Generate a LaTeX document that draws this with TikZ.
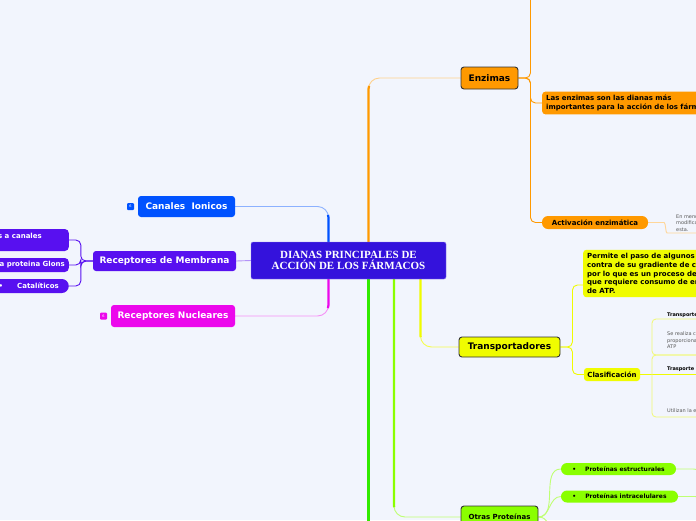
\documentclass[tikz,border=0pt]{standalone}
\usepackage{fontspec}
\setmainfont{DejaVu Sans}
\newfontfamily\titlefont{Liberation Serif}
\usepackage{xcolor}
\usepackage{tikz}
\usetikzlibrary{calc, backgrounds, positioning}

\definecolor{bgpage}{RGB}{242,245,253}
\definecolor{rootblue}{RGB}{52,18,220}
\definecolor{canalblue}{RGB}{0,82,255}
\definecolor{membviolet}{RGB}{88,16,240}
\definecolor{nucmag}{RGB}{236,8,236}
\definecolor{enzorange}{RGB}{255,153,0}
\definecolor{transyellow}{RGB}{240,252,0}
\definecolor{otrasgreen}{RGB}{138,255,0}
\definecolor{mainlime}{RGB}{50,235,0}
\definecolor{boxedge}{RGB}{50,50,50}

\tikzset{
  rootbox/.style={
    draw=rootblue!55!white, fill=rootblue, rounded corners=2pt, text=white,
    font=\titlefont\bfseries\fontsize{11}{10.5}\selectfont, align=center,
    minimum width=195pt, minimum height=37pt
  },
  topicbox/.style={
    rounded corners=3pt, text=white, inner xsep=6pt,
    font=\bfseries\fontsize{9}{10}\selectfont, minimum height=21pt
  },
  framedbox/.style={
    draw=boxedge, line width=0.9pt, rounded corners=3pt,
    font=\bfseries\fontsize{9}{10}\selectfont, minimum height=21pt
  },
  leafbox/.style={
    fill=membviolet, text=white, rounded corners=4pt, align=left,
    font=\bfseries\fontsize{7}{8.8}\selectfont, inner xsep=4pt, inner ysep=2pt
  },
  subbox/.style={
    rounded corners=3pt, align=left, inner xsep=4pt,
    font=\bfseries\fontsize{7}{8.8}\selectfont
  },
  pillbox/.style={
    rounded corners=6pt, inner ysep=0pt, minimum height=13pt,
    font=\bfseries\fontsize{7}{8}\selectfont
  },
  outlinebox/.style={
    draw=transyellow!55!bgpage, line width=0.8pt, rounded corners=4pt,
    minimum width=100pt
  },
  tinytext/.style={
    font=\fontsize{5}{6.3}\selectfont, text=black!65, align=left, inner sep=0pt
  },
  tinyhead/.style={font=\bfseries\fontsize{5}{6}\selectfont, inner sep=0pt},
  badge/.style={
    rounded corners=1pt, minimum size=7pt, inner sep=0pt, text=white,
    font=\fontsize{3.5}{4}\selectfont
  },
  branch/.style={line width=0.9pt, rounded corners=11pt},
  stem/.style={line width=2.2pt, rounded corners=11pt, dash pattern=on #1 off 2000pt},
  twig/.style={line width=0.9pt, rounded corners=5pt},
}

\begin{document}
\begin{tikzpicture}[x=1pt, y=-1pt]
  \useasboundingbox (0,0) rectangle (696,520);
  \begin{scope}[on background layer]
    \fill[bgpage] (0,0) rectangle (696,520);
  \end{scope}

  % ── Central topic ──────────────────────────────────────────────
  \node[rootbox] (root) at (348.5,260.5) {DIANAS PRINCIPALES DE\\ACCIÓN DE LOS FÁRMACOS};

  % ── Left branches ──────────────────────────────────────────────
  \node[topicbox, fill=canalblue, minimum width=97pt] (canales) at (186.5,206.5) {Canales\ \ Ionicos};
  \node[badge, fill=canalblue] (canalbadge) at (130.5,206.5) {6};
  \node[topicbox, fill=membviolet, minimum width=143pt, minimum height=20pt]
    (recmem) at (164.5,261) {Receptores de Membrana};
  \node[topicbox, fill=nucmag, minimum width=124pt, minimum height=22pt]
    (recnuc) at (173,316) {Receptores Nucleares};
  \node[badge, fill=nucmag] (nucbadge) at (103.5,316) {6};

  % receptor types (cut by the left edge)
  \node[leafbox, anchor=east, minimum height=22pt]
    (canalrec) at (69,240) {Receptores acoplados a canales\hspace*{23pt}\\iónicos};
  \node[leafbox, anchor=east, minimum height=14pt]
    (gprot) at (69,265) {Receptores acoplados a proteina Glons};
  \node[leafbox, anchor=east, minimum height=14pt, rounded corners=7pt, inner xsep=10pt]
    (catal) at (69,286) {•\hspace{14pt}Catalíticos};

  % ── Enzimas ────────────────────────────────────────────────────
  \node[framedbox, fill=enzorange, minimum width=57pt, minimum height=22pt] (enz) at (489.5,78) {Enzimas};
  \node[subbox, fill=enzorange, anchor=west, minimum height=22pt]
    (lasenz) at (542,103) {Las enzimas son las dianas más\\importantes para la acción de los fármacos};
  \node[pillbox, fill=enzorange, minimum width=106pt] (activ) at (595,222.5) {Activación enzimática};
  \node[tinytext, anchor=south west, inner ysep=1.5pt]
    (enmenor) at (676,233) {En menor medida\\modifican la actividad de\\esta.};

  % ── Transportadores ────────────────────────────────────────────
  \node[framedbox, fill=transyellow, minimum width=101pt, minimum height=20pt]
    (transp) at (509.5,347) {Transportadores};
  \node[subbox, fill=transyellow, anchor=west, minimum height=47pt]
    (permite) at (583,273.5) {Permite el paso de algunos solutos en\\contra de su gradiente de concentración,\\por lo que es un proceso de transporte activo\\que requiere consumo de energía en forma\\de ATP.};
  \node[pillbox, fill=transyellow, rounded corners=3pt, minimum width=56pt]
    (clasif) at (612,374.5) {Clasificación};
  \node[tinyhead, anchor=base west] (tprim) at (667,316) {Transporte activo primario};
  \node[outlinebox, minimum height=36pt] (primbox) at (702,337) {};
  \node[tinytext, anchor=west] (primtext) at (667,340) {Se realiza con energía\\proporcionada por el\\ATP};
  \node[tinyhead, anchor=base west] (tsec) at (667,370) {Trasporte activo secundario};
  \node[outlinebox, minimum height=62pt] (secbox) at (702,386) {};
  \node[tinytext, anchor=base west] (sectext) at (667,412) {Utilizan la energía del gradiente};

  % ── Otras Proteínas ────────────────────────────────────────────
  \node[framedbox, fill=otrasgreen, font=\bfseries\fontsize{7}{8}\selectfont,
        minimum width=77pt, minimum height=22pt] (otras) at (499.5,517) {Otras Proteínas};
  \node[pillbox, fill=otrasgreen, font=\bfseries\fontsize{6}{7}\selectfont,
        minimum width=115pt, minimum height=12pt] (estruct) at (618.5,469) {•\hspace{9pt}Proteínas estructurales};
  \node[pillbox, fill=otrasgreen, font=\bfseries\fontsize{6}{7}\selectfont,
        minimum width=117pt, minimum height=12pt] (intra) at (619.5,496.5) {•\hspace{9pt}Proteínas intracelulares};

  % branches leaving the picture
  \coordinate (enztop) at (545,-40);
  \coordinate (mainlow) at (368.5,560);
  \coordinate (otraslow) at (565,560);
  \coordinate (estructnext) at (730,500);
  \coordinate (intranext) at (730,522);

  % ── Connectors ─────────────────────────────────────────────────
  \begin{scope}[on background layer]
    \draw[branch, canalblue!45!white] ([xshift=-20pt]root.north) |- (canales.east);
    \draw[stem=27pt, canalblue] ([xshift=-20pt]root.north) |- (canales.east);
    \draw[branch, nucmag!45!white] ([xshift=-20pt]root.south) |- (recnuc.east);
    \draw[stem=29pt, nucmag] ([xshift=-20pt]root.south) |- (recnuc.east);
    \draw[twig, membviolet!45!white] (root.west) -- (recmem.east);

    \draw[branch, enzorange!45!white] ([xshift=20pt]root.north) |- (enz.west);
    \draw[stem=156pt, enzorange] ([xshift=20pt]root.north) |- (enz.west);
    \draw[branch, transyellow!70!white] ([xshift=72pt]root.south) |- (transp.west);
    \draw[stem=58pt, transyellow] ([xshift=72pt]root.south) |- (transp.west);
    \draw[branch, otrasgreen!55!white] ([xshift=45.5pt]root.south) |- (otras.west);
    \draw[stem=228pt, otrasgreen] ([xshift=45.5pt]root.south) |- (otras.west);
    \draw[line width=2.6pt, mainlime] ([xshift=20pt]root.south) -- (mainlow);

    \draw[twig, membviolet] (recmem.west) -- ++(-12,0) |- (canalrec.east);
    \draw[twig, membviolet] (recmem.west) -- ++(-12,0) |- (gprot.east);
    \draw[twig, membviolet] (recmem.west) -- ++(-12,0) |- (catal.east);

    \draw[twig, enzorange] (enz.east) -- ++(12,0) |- (enztop);
    \draw[twig, enzorange] (enz.east) -- ++(12,0) |- (lasenz.west);
    \draw[twig, enzorange] (enz.east) -- ++(12,0) |- (activ.west);
    \draw[twig, enzorange!40!white] (activ.east) -- ++(11,0)
      to[out=0, in=180] ([xshift=-4pt]enmenor.south west) -- (enmenor.south east);

    \draw[twig, transyellow] (transp.east) -- ++(12,0) |- ([yshift=-11.5pt]permite.west);
    \draw[twig, transyellow] (transp.east) -- ++(12,0) |- (clasif.west);
    \draw[twig, transyellow] (clasif.east) -- (clasif.east -| tsec.east);

    \draw[twig, otrasgreen!55!white] (otras.east) to[out=0, in=180] (estruct.west);
    \draw[twig, otrasgreen!55!white] (otras.east) to[out=0, in=180] (intra.west);
    \draw[twig, otrasgreen!55!white] (otras.east) to[out=0, in=180] (otraslow);
    \draw[twig, otrasgreen!55!white] (estruct.east) -- ++(12,0) to[out=0, in=180] (estructnext);
    \draw[twig, otrasgreen!55!white] (intra.east) -- ++(12,0) to[out=0, in=180] (intranext);
  \end{scope}
\end{tikzpicture}
\end{document}
